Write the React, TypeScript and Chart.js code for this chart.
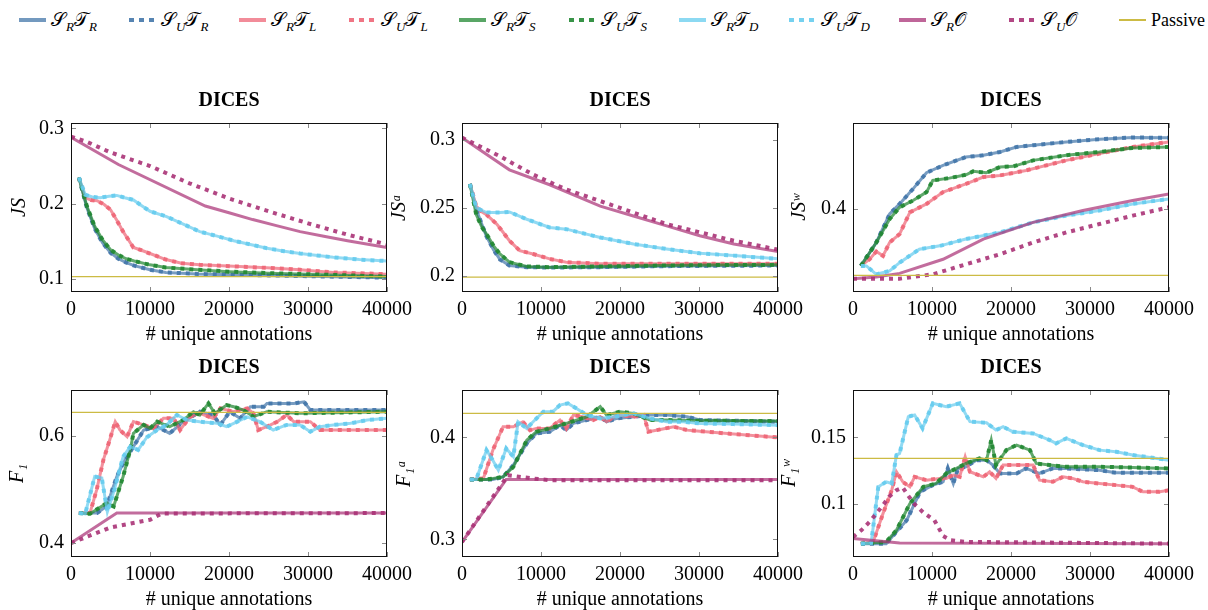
import React, { useEffect, useRef } from 'react';
import { Chart, registerables } from 'chart.js';
Chart.register(...registerables);

type Pts = [number, number][];

// ---------- shared ticks ----------
const xTicks = [0, 10000, 20000, 30000, 40000];

// ---------- Panel 1: JS ----------
const jsTicks = [0.1, 0.2, 0.3];
const jsRR: Pts = [[1000,0.2347],[2000,0.195],[3000,0.167],[4000,0.148],[5000,0.135],[6000,0.127],[7000,0.122],[8000,0.118],[10000,0.1125],[12000,0.109],[16000,0.107],[20000,0.106],[25000,0.105],[30000,0.104],[35000,0.103],[40000,0.102]];
const jsRL: Pts = [[1000,0.2347],[1800,0.208],[2500,0.205],[3300,0.204],[4200,0.199],[5000,0.192],[5800,0.178],[6600,0.163],[7900,0.142],[9000,0.138],[10000,0.134],[12000,0.126],[14000,0.121],[16300,0.119],[20600,0.117],[24800,0.115],[29000,0.1125],[33200,0.109],[40000,0.1066]];
const jsRS: Pts = [[1000,0.2347],[2000,0.197],[3000,0.17],[4000,0.152],[5000,0.139],[6000,0.132],[7000,0.127],[8000,0.124],[10000,0.119],[12000,0.1155],[16000,0.1125],[20000,0.11],[25000,0.108],[30000,0.1065],[35000,0.105],[40000,0.1035]];
const jsRD: Pts = [[1000,0.2347],[1800,0.212],[2700,0.209],[3700,0.208],[4800,0.21],[5800,0.211],[6800,0.208],[7900,0.205],[9000,0.197],[10000,0.19],[12100,0.183],[14000,0.174],[16300,0.163],[18500,0.157],[20600,0.151],[22700,0.146],[24800,0.141],[27000,0.137],[29000,0.134],[33200,0.129],[36500,0.126],[40000,0.124]];
const jsRO: Pts = [[0,0.288],[6000,0.252],[17000,0.197],[20000,0.188],[23000,0.179],[26000,0.171],[29000,0.163],[32000,0.157],[35000,0.151],[40000,0.142]];
const jsUO: Pts = [[0,0.289],[2000,0.282],[5000,0.268],[10000,0.25],[15000,0.227],[20000,0.207],[25000,0.19],[30000,0.174],[35000,0.159],[40000,0.146]];
const jsPassive = 0.1035;

// ---------- Panel 2: JS^a ----------
const jsaTicks = [0.2, 0.25, 0.3];
const jsaRR: Pts = [[1000,0.2676],[1800,0.249],[2500,0.238],[3100,0.229],[4000,0.219],[4800,0.212],[6000,0.2075],[8200,0.2063],[11000,0.206],[17500,0.2063],[25000,0.207],[32000,0.2073],[40000,0.2075]];
const jsaRL: Pts = [[1000,0.2676],[1800,0.2513],[2500,0.247],[3100,0.245],[4400,0.238],[5200,0.232],[6000,0.2258],[7300,0.2185],[9000,0.216],[11100,0.2124],[13200,0.21],[17500,0.2088],[25000,0.2088],[32000,0.2088],[40000,0.2088]];
const jsaRS: Pts = [[1000,0.2676],[1800,0.245],[2500,0.236],[3100,0.2307],[4000,0.222],[4800,0.216],[6000,0.21],[8200,0.2068],[11100,0.2063],[17500,0.2068],[25000,0.2075],[32000,0.2078],[40000,0.208]];
const jsaRD: Pts = [[1000,0.2676],[1800,0.2501],[3100,0.2465],[4800,0.2465],[6000,0.247],[8200,0.2416],[11100,0.2355],[13200,0.2343],[15500,0.231],[17500,0.2282],[21700,0.2234],[25900,0.2197],[30100,0.2165],[34400,0.2148],[40000,0.2124]];
const jsaRO: Pts = [[0,0.3017],[6000,0.278],[11100,0.267],[17500,0.2513],[21700,0.244],[25900,0.2367],[30100,0.2294],[34400,0.2234],[40000,0.2178]];
const jsaUO: Pts = [[0,0.3017],[4800,0.288],[9000,0.2745],[13200,0.2635],[17500,0.255],[21700,0.2465],[25900,0.238],[30100,0.232],[34400,0.2258],[40000,0.2192]];
const jsaPassive = 0.199;

// ---------- Panel 3: JS^w ----------
const jswTicks = [0.4];
const jswRR: Pts = [[1000,0.341],[2950,0.3653],[4640,0.3948],[5900,0.4052],[7600,0.4208],[9300,0.4375],[11400,0.4451],[14300,0.4538],[16500,0.4556],[18600,0.459],[20700,0.4642],[22800,0.466],[27000,0.4694],[31200,0.4722],[35400,0.474],[40000,0.4736]];
const jswRL: Pts = [[1000,0.341],[2100,0.348],[2950,0.3559],[3800,0.3514],[4640,0.3653],[5900,0.374],[7200,0.3965],[9300,0.4052],[11400,0.4174],[14300,0.426],[16500,0.433],[18600,0.4347],[21900,0.4399],[27000,0.4503],[31200,0.4573],[35400,0.4642],[40000,0.4694]];
const jswRS: Pts = [[1000,0.341],[2950,0.3653],[4640,0.3896],[5900,0.4017],[7600,0.4087],[9300,0.4174],[10100,0.4295],[12200,0.4319],[14300,0.4354],[15200,0.4389],[16900,0.4375],[18600,0.4434],[20300,0.4441],[22800,0.4503],[27000,0.4556],[31200,0.459],[35400,0.4632],[40000,0.4642]];
const jswRD: Pts = [[1000,0.341],[1700,0.341],[2950,0.3323],[4640,0.3358],[5900,0.3444],[8400,0.3583],[11000,0.3618],[14300,0.3688],[18600,0.3757],[22800,0.3861],[27000,0.3931],[31200,0.3983],[35400,0.4052],[40000,0.4104]];
const jswRO: Pts = [[0,0.3278],[2950,0.3295],[5900,0.3333],[11400,0.3479],[16500,0.3688],[22800,0.3861],[29100,0.3983],[35400,0.4087],[40000,0.4156]];
const jswUO: Pts = [[0,0.3278],[5900,0.3278],[10100,0.3323],[14300,0.3427],[18600,0.3531],[22800,0.3653],[27000,0.3757],[31200,0.3844],[35400,0.3931],[40000,0.4017]];
const jswPassive = 0.3313;

// ---------- Panel 4: F1 ----------
const f1Ticks = [0.4, 0.6];
const f1RR: Pts = [[1000,0.4558],[3300,0.4558],[4500,0.4682],[5800,0.5239],[6600,0.5486],[7900,0.5796],[9200,0.6105],[10900,0.6167],[12500,0.6043],[14200,0.626],[16300,0.6446],[18000,0.6384],[18900,0.62],[20100,0.6446],[21400,0.6322],[22700,0.6539],[24400,0.6539],[24800,0.66],[28200,0.66],[29500,0.663],[30300,0.6477],[33200,0.6477],[40000,0.6477]];
const f1RL: Pts = [[1000,0.4558],[2400,0.4558],[3250,0.4991],[4100,0.5548],[4900,0.592],[5600,0.626],[6200,0.6105],[7100,0.598],[7900,0.626],[9200,0.62],[10400,0.6136],[11700,0.6322],[13000,0.6322],[13800,0.6105],[15100,0.6353],[16300,0.6415],[18000,0.6322],[18900,0.6508],[20600,0.6446],[22300,0.6508],[23100,0.6415],[23700,0.6105],[24800,0.6167],[26100,0.626],[27300,0.6384],[28200,0.626],[30300,0.626],[31500,0.6105],[33200,0.6105],[40000,0.6105]];
const f1RS: Pts = [[1000,0.4558],[2400,0.4545],[4500,0.4743],[5400,0.4682],[6600,0.5239],[7500,0.5734],[7900,0.6043],[9200,0.62],[10000,0.6136],[10900,0.626],[12500,0.6167],[14200,0.629],[15500,0.6446],[16300,0.6384],[17400,0.66],[18200,0.6415],[19700,0.657],[20600,0.6539],[21800,0.6477],[23100,0.6353],[24800,0.6446],[29000,0.6415],[33200,0.6427],[40000,0.6446]];
const f1RD: Pts = [[1000,0.4558],[1800,0.4545],[3000,0.524],[3900,0.521],[4600,0.458],[5500,0.5],[6600,0.561],[7500,0.5796],[8500,0.5734],[9600,0.597],[10900,0.6105],[12100,0.62],[13400,0.6384],[14700,0.629],[16300,0.626],[18500,0.6229],[19700,0.6167],[20600,0.6229],[22300,0.635],[23900,0.626],[25600,0.6105],[27300,0.62],[29000,0.62],[30300,0.6074],[31500,0.6167],[33200,0.62],[35400,0.6229],[37500,0.629],[40000,0.6322]];
const f1RO: Pts = [[0,0.4],[5800,0.4558],[40000,0.4558]];
const f1UO: Pts = [[0,0.4],[5000,0.429],[10000,0.4434],[11500,0.455],[40000,0.4558]];
const f1Passive = 0.6433;

// ---------- Panel 5: F1^a ----------
const f1aTicks = [0.3, 0.4];
const f1aRR: Pts = [[1000,0.3587],[3900,0.3587],[5200,0.3613],[6500,0.3728],[8200,0.3941],[9400,0.4039],[11100,0.4056],[12400,0.4121],[13200,0.4072],[14100,0.4138],[15800,0.4171],[17500,0.4203],[18300,0.4154],[19600,0.4187],[21700,0.4203],[23800,0.422],[25900,0.422],[28500,0.4203],[30100,0.4171],[34400,0.4164],[40000,0.4154]];
const f1aRL: Pts = [[1000,0.3587],[2700,0.3597],[3900,0.3875],[5200,0.4105],[6500,0.4105],[7700,0.4154],[8600,0.4072],[9400,0.4089],[11100,0.4089],[12400,0.4171],[13200,0.4089],[14100,0.422],[15300,0.4203],[16600,0.4171],[17500,0.4203],[18300,0.4154],[19600,0.422],[21700,0.4203],[23000,0.422],[23600,0.4056],[25100,0.4079],[26800,0.4105],[28500,0.4072],[30100,0.4062],[34400,0.4033],[40000,0.4]];
const f1aRS: Pts = [[1000,0.3587],[3100,0.3587],[5200,0.3613],[6500,0.3711],[8200,0.3974],[9400,0.4056],[11100,0.4089],[13200,0.4138],[15800,0.4203],[17500,0.4302],[18300,0.422],[20000,0.4253],[21700,0.4236],[23800,0.4171],[25900,0.4171],[30100,0.4164],[40000,0.4161]];
const f1aRD: Pts = [[1000,0.3587],[1800,0.3587],[3100,0.3875],[3900,0.3777],[4600,0.3679],[5600,0.3892],[6500,0.381],[7100,0.4154],[8200,0.4089],[9000,0.4154],[10300,0.4253],[11500,0.4253],[12400,0.4318],[13400,0.4335],[14500,0.4285],[15800,0.422],[17500,0.4187],[19200,0.4203],[21700,0.4236],[23800,0.4187],[25900,0.4154],[28000,0.4154],[30100,0.4138],[34400,0.4131],[40000,0.4121]];
const f1aRO: Pts = [[0,0.2973],[5600,0.3587],[40000,0.3587]];
const f1aUO: Pts = [[0,0.2973],[5800,0.3629],[9000,0.3597],[11100,0.358],[40000,0.358]];
const f1aPassive = 0.4236;

// ---------- Panel 6: F1^w ----------
const f1wTicks = [0.1, 0.15];
const f1wRR: Pts = [[1000,0.0705],[4200,0.0705],[5500,0.0793],[6800,0.088],[8500,0.1093],[10100,0.1143],[11400,0.1168],[12000,0.1268],[12700,0.1155],[13300,0.1268],[14300,0.128],[15600,0.133],[16900,0.133],[17700,0.1293],[18600,0.123],[20700,0.123],[21900,0.1268],[23600,0.123],[25300,0.1268],[27000,0.1268],[31200,0.1255],[33300,0.1235],[40000,0.1235]];
const f1wRL: Pts = [[1000,0.0705],[2550,0.0718],[3800,0.093],[4900,0.1105],[5500,0.1243],[6300,0.1168],[7200,0.113],[7800,0.1205],[9300,0.118],[11000,0.1193],[11800,0.1193],[12700,0.1218],[13500,0.1205],[14200,0.1355],[14800,0.1243],[16500,0.1205],[17300,0.1243],[18100,0.1193],[19000,0.1293],[20700,0.1293],[22800,0.1293],[23600,0.118],[25300,0.1168],[26600,0.1205],[27800,0.1193],[29100,0.1168],[31200,0.1155],[33300,0.1143],[35400,0.113],[36700,0.1093],[38800,0.1093],[40000,0.1105]];
const f1wRS: Pts = [[1000,0.0705],[4200,0.0718],[5500,0.0805],[7200,0.1005],[8900,0.113],[10500,0.1155],[11800,0.123],[13100,0.1268],[14300,0.1305],[16000,0.1343],[16900,0.133],[17500,0.148],[18100,0.1293],[19400,0.1405],[20700,0.1443],[22400,0.1405],[23200,0.1305],[24900,0.1293],[27000,0.128],[31200,0.128],[35400,0.1275],[40000,0.1268]];
const f1wRD: Pts = [[1000,0.0705],[2300,0.071],[3200,0.113],[4200,0.1168],[4900,0.1155],[5500,0.1368],[5900,0.138],[7000,0.1655],[7800,0.1668],[8800,0.1568],[10100,0.1755],[11800,0.173],[13500,0.1755],[14800,0.1618],[16900,0.161],[18100,0.1555],[19000,0.158],[20200,0.1543],[22800,0.153],[24900,0.148],[25700,0.1455],[27000,0.1493],[29100,0.1443],[31200,0.1405],[33300,0.1393],[35400,0.1368],[37600,0.135],[40000,0.133]];
const f1wRO: Pts = [[0,0.0743],[5900,0.071],[40000,0.0705]];
const f1wUO: Pts = [[0,0.0755],[1050,0.0805],[2100,0.0868],[2950,0.093],[3800,0.0993],[4550,0.1055],[5500,0.1105],[6300,0.1125],[7000,0.1063],[7800,0.1],[8900,0.0938],[10300,0.088],[11400,0.0763],[12400,0.073],[14300,0.0718],[40000,0.0705]];
const f1wPassive = 0.1343;

// ---------- styling ----------
const FONT = '"Liberation Serif", "DejaVu Serif", serif';
const RGB: Record<string, string> = {
  R: '68,119,170',
  L: '238,102,119',
  S: '34,136,51',
  D: '102,204,238',
  O: '170,51,119',
};
const PASSIVE_COLOR = '#CCBB44';

interface PanelDef {
  yTitle: string;
  yTicks: number[];
  yMin: number;
  yMax: number;
  series: { R: Pts; L: Pts; S: Pts; D: Pts; RO: Pts; UO: Pts };
  passive: number;
  L: number; R: number; T: number; B: number;
  yTitleGap: number;
}

const panels: PanelDef[] = [
  { yTitle: 'JS', yTicks: jsTicks, yMin: 0.083, yMax: 0.307, series: { R: jsRR, L: jsRL, S: jsRS, D: jsRD, RO: jsRO, UO: jsUO }, passive: jsPassive, L: 71, R: 387, T: 123, B: 292, yTitleGap: 51 },
  { yTitle: 'JSᵃ', yTicks: jsaTicks, yMin: 0.188, yMax: 0.3125, series: { R: jsaRR, L: jsaRL, S: jsaRS, D: jsaRD, RO: jsaRO, UO: jsaUO }, passive: jsaPassive, L: 462, R: 778, T: 123, B: 292, yTitleGap: 62 },
  { yTitle: 'JSʷ', yTicks: jswTicks, yMin: 0.314, yMax: 0.489, series: { R: jswRR, L: jswRL, S: jswRS, D: jswRD, RO: jswRO, UO: jswUO }, passive: jswPassive, L: 853, R: 1169, T: 123, B: 292, yTitleGap: 53 },
  { yTitle: 'F₁', yTicks: f1Ticks, yMin: 0.374, yMax: 0.685, series: { R: f1RR, L: f1RL, S: f1RS, D: f1RD, RO: f1RO, UO: f1UO }, passive: f1Passive, L: 71, R: 387, T: 390, B: 557, yTitleGap: 53 },
  { yTitle: 'F₁ᵃ', yTicks: f1aTicks, yMin: 0.2826, yMax: 0.4466, series: { R: f1aRR, L: f1aRL, S: f1aRS, D: f1aRD, RO: f1aRO, UO: f1aUO }, passive: f1aPassive, L: 462, R: 778, T: 390, B: 557, yTitleGap: 57 },
  { yTitle: 'F₁ʷ', yTicks: f1wTicks, yMin: 0.0605, yMax: 0.1855, series: { R: f1wRR, L: f1wRL, S: f1wRS, D: f1wRD, RO: f1wRO, UO: f1wUO }, passive: f1wPassive, L: 853, R: 1169, T: 390, B: 557, yTitleGap: 63 },
];

const PAD_L = 80, PAD_R = 40, PAD_T = 45, PAD_B = 55;

const frameAndTicks = {
  id: 'frameAndTicks',
  afterDatasetsDraw(chart: any) {
    const { ctx, chartArea: a, scales } = chart;
    ctx.save();
    ctx.strokeStyle = '#8a8a8a';
    ctx.lineWidth = 1;
    ctx.beginPath();
    for (const t of scales.x.ticks) {
      const px = Math.round(scales.x.getPixelForValue(t.value)) + 0.5;
      ctx.moveTo(px, a.top); ctx.lineTo(px, a.top + 5);
      ctx.moveTo(px, a.bottom); ctx.lineTo(px, a.bottom - 5);
    }
    for (const t of scales.y.ticks) {
      const py = Math.round(scales.y.getPixelForValue(t.value)) + 0.5;
      ctx.moveTo(a.left, py); ctx.lineTo(a.left + 5, py);
      ctx.moveTo(a.right, py); ctx.lineTo(a.right - 5, py);
    }
    ctx.stroke();
    ctx.strokeStyle = '#111';
    ctx.strokeRect(a.left + 0.5, a.top + 0.5, a.right - a.left - 1, a.bottom - a.top - 1);
    ctx.restore();
  },
};

function toXY(p: Pts) {
  return p.map(([x, y]) => ({ x, y }));
}

function Panel({ def }: { def: PanelDef }) {
  const ref = useRef<HTMLCanvasElement>(null);
  const w = def.R - def.L + PAD_L + PAD_R;
  const h = def.B - def.T + PAD_T + PAD_B;
  useEffect(() => {
    const s = def.series;
    const order: [Pts, string, boolean][] = [
      [s.R, 'R', false], [s.R, 'R', true],
      [s.L, 'L', false], [s.L, 'L', true],
      [s.S, 'S', false], [s.S, 'S', true],
      [s.D, 'D', false], [s.D, 'D', true],
      [s.RO, 'O', false], [s.UO, 'O', true],
    ];
    const N = order.length + 1;
    const datasets: any[] = order.map(([pts, key, dotted], i) => ({
      data: toXY(pts),
      borderColor: dotted ? `rgba(${RGB[key]},0.9)` : `rgba(${RGB[key]},0.72)`,
      borderWidth: dotted ? 4 : 3,
      borderDash: dotted ? [4, 5] : [],
      borderCapStyle: 'butt',
      pointRadius: 0,
      tension: 0,
      fill: false,
      order: N - i,
    }));
    datasets.push({
      data: [{ x: 0, y: def.passive }, { x: 40000, y: def.passive }],
      borderColor: PASSIVE_COLOR,
      borderWidth: 1.3,
      pointRadius: 0,
      fill: false,
      order: 0,
    });
    const chart = new Chart(ref.current!, {
      type: 'line',
      data: { datasets },
      plugins: [frameAndTicks],
      options: {
        animation: false,
        responsive: false,
        layout: { padding: { left: 0, right: PAD_R, top: 0, bottom: 0 } },
        plugins: {
          legend: { display: false },
          tooltip: { enabled: false },
          title: {
            display: true,
            text: 'DICES',
            fullSize: false,
            color: '#000',
            font: { family: FONT, size: 20, weight: 'bold' },
            padding: { top: 11, bottom: 10 },
          },
        },
        scales: {
          x: {
            type: 'linear',
            min: 0,
            max: 40000,
            grid: { display: false, drawTicks: false },
            border: { display: false },
            afterBuildTicks: (axis: any) => { axis.ticks = xTicks.map((v) => ({ value: v })); },
            afterFit: (scale: any) => { scale.height = PAD_B; },
            ticks: {
              autoSkip: false,
              maxRotation: 0,
              padding: 6,
              color: '#000',
              font: { family: FONT, size: 20 },
              callback: (v: any) => String(v),
            },
            title: {
              display: true,
              text: '# unique annotations',
              color: '#000',
              font: { family: FONT, size: 20 },
              padding: { top: 0, bottom: 0 },
            },
          },
          y: {
            type: 'linear',
            min: def.yMin,
            max: def.yMax,
            grid: { display: false, drawTicks: false },
            border: { display: false },
            afterBuildTicks: (axis: any) => { axis.ticks = def.yTicks.map((v) => ({ value: v })); },
            afterFit: (scale: any) => { scale.width = PAD_L; },
            ticks: {
              autoSkip: false,
              padding: 7,
              color: '#000',
              font: { family: FONT, size: 20 },
              callback: (v: any) => String(v),
            },
            title: {
              display: true,
              text: def.yTitle,
              color: '#000',
              font: { family: FONT, size: 20, style: 'italic' },
              padding: { top: PAD_L - 12 - def.yTitleGap, bottom: 0 },
            },
          },
        },
      } as any,
    });
    return () => chart.destroy();
  }, []);
  return (
    <canvas
      ref={ref}
      width={w}
      height={h}
      style={{ position: 'absolute', left: def.L - PAD_L, top: def.T - PAD_T, width: w, height: h }}
    />
  );
}

const legendItems: { sub: string; t: string; key: string; dotted: boolean }[] = [
  { sub: 'R', t: 'R', key: 'R', dotted: false },
  { sub: 'U', t: 'R', key: 'R', dotted: true },
  { sub: 'R', t: 'L', key: 'L', dotted: false },
  { sub: 'U', t: 'L', key: 'L', dotted: true },
  { sub: 'R', t: 'S', key: 'S', dotted: false },
  { sub: 'U', t: 'S', key: 'S', dotted: true },
  { sub: 'R', t: 'D', key: 'D', dotted: false },
  { sub: 'U', t: 'D', key: 'D', dotted: true },
  { sub: 'R', t: 'O', key: 'O', dotted: false },
  { sub: 'U', t: 'O', key: 'O', dotted: true },
];

function Swatch({ color, dotted, thin }: { color: string; dotted: boolean; thin?: boolean }) {
  const style: React.CSSProperties = {
    width: 27,
    height: thin ? 2 : 4,
    marginRight: 5,
    flex: 'none',
    background: dotted
      ? `repeating-linear-gradient(to right, ${color} 0px, ${color} 5px, transparent 5px, transparent 10px)`
      : color,
  };
  return <span style={style} />;
}

function Legend() {
  const sub: React.CSSProperties = { fontSize: 13, fontStyle: 'italic', position: 'relative', top: 5 };
  return (
    <div
      style={{
        position: 'absolute', left: 19, top: 0, height: 40, display: 'flex', alignItems: 'center',
        fontFamily: FONT, fontSize: 19, color: '#000', whiteSpace: 'nowrap',
      }}
    >
      {legendItems.map((it, i) => (
        <span key={i} style={{ display: 'flex', alignItems: 'center', width: 110, flex: 'none' }}>
          <Swatch color={`rgba(${RGB[it.key]},${it.dotted ? 0.9 : 0.75})`} dotted={it.dotted} />
          <span>
            <span>𝒮</span><span style={sub}>{it.sub}</span>
            <span>{it.t === 'O' ? '𝒪' : '𝒯'}</span>
            {it.t !== 'O' && <span style={sub}>{it.t}</span>}
          </span>
        </span>
      ))}
      <span style={{ display: 'flex', alignItems: 'center', flex: 'none' }}>
        <Swatch color={PASSIVE_COLOR} dotted={false} thin />
        <span style={{ fontSize: 18 }}>Passive</span>
      </span>
    </div>
  );
}

export default function App() {
  return (
    <div style={{ position: 'fixed', left: 0, top: 0, width: 1208, height: 610, background: '#fff', overflow: 'hidden' }}>
      <Legend />
      {panels.map((p, i) => (
        <Panel key={i} def={p} />
      ))}
    </div>
  );
}
